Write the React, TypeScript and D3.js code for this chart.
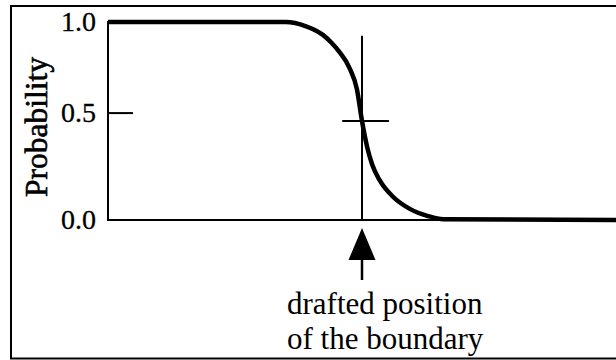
import React from "react";
import * as d3 from "d3";

// Curve (x: position, 0..100; y: probability)
const curveX = [0, 35, 39, 40.5, 42.3, 44, 45.5, 47.5, 49, 50, 51, 52, 53.5, 56, 59.5, 63, 66, 100];
const curveP = [1, 1, 0.978, 0.962, 0.935, 0.895, 0.85, 0.77, 0.66, 0.5, 0.37, 0.28, 0.2, 0.12, 0.055, 0.02, 0.004, 0];

const yTickValues = [0, 0.54, 1];
const yTickLabels = ["0.0", "0.5", "1.0"];
const yTitle = "Probability";

const boundaryX = 50;
const boundaryTopP = 0.93;
const crossX = [46.1, 55.3];
const crossP = 0.5;

const noteLines = ["drafted position", "of the boundary"];

const W = 616;
const H = 360;
const plotLeft = 108;
const plotRight = 616;
const plotTop = 22;
const plotBottom = 220;

export default function App() {
  const x = d3.scaleLinear().domain([0, 100]).range([plotLeft, plotRight]);
  const y = d3.scaleLinear().domain([0, 1]).range([plotBottom, plotTop]);

  const line = d3
    .line<number>()
    .x((_, i) => x(curveX[i]))
    .y((d) => y(d))
    .curve(d3.curveMonotoneX);

  const bx = x(boundaryX);
  const font = "Liberation Serif, Times New Roman, serif";

  return (
    <svg
      width={W}
      height={H}
      style={{ position: "absolute", left: 0, top: 0, background: "#fff", fontFamily: font }}
    >
      {/* frame */}
      <rect x={11} y={6} width={640} height={352.5} fill="none" stroke="#000" strokeWidth={2} />

      {/* axes */}
      <line x1={plotLeft} x2={plotLeft} y1={y(1) - 1} y2={y(0) + 1} stroke="#000" strokeWidth={2} />
      <line x1={plotLeft} x2={plotRight} y1={y(0)} y2={y(0)} stroke="#000" strokeWidth={2} />

      {/* y ticks */}
      {yTickValues.map((v, i) => (
        <g key={i}>
          <line x1={plotLeft} x2={plotLeft + 25} y1={y(v)} y2={y(v)} stroke="#000" strokeWidth={2} />
          <text
            x={96}
            y={y(v) + 9}
            textAnchor="end"
            style={{ fontFamily: font, fontSize: 28 }}
            fill="#000"
            stroke="#000"
            strokeWidth={0.3}
          >
            {yTickLabels[i]}
          </text>
        </g>
      ))}

      {/* y title */}
      <text
        transform={`translate(46.5,127) rotate(-90)`}
        textAnchor="middle"
        style={{ fontFamily: font, fontSize: 31.5 }}
        fill="#000"
        stroke="#000"
        strokeWidth={0.6}
      >
        {yTitle}
      </text>

      {/* boundary line and crosshair */}
      <line x1={bx} x2={bx} y1={y(boundaryTopP)} y2={y(0)} stroke="#000" strokeWidth={2} />
      <line x1={x(crossX[0])} x2={x(crossX[1])} y1={y(crossP)} y2={y(crossP)} stroke="#000" strokeWidth={2} />

      {/* curve */}
      <path d={line(curveP) || ""} fill="none" stroke="#000" strokeWidth={4.5} />

      {/* arrow */}
      <polygon points={`${bx},228 ${bx - 13.5},260 ${bx + 13.5},260`} fill="#000" />
      <line x1={bx} x2={bx} y1={258} y2={280} stroke="#000" strokeWidth={2.5} />

      {/* note */}
      {noteLines.map((t, i) => (
        <text
          key={i}
          x={287}
          y={314 + i * 34.5}
          style={{ fontFamily: font, fontSize: 31 }}
          fill="#000"
        >
          {t}
        </text>
      ))}
    </svg>
  );
}
